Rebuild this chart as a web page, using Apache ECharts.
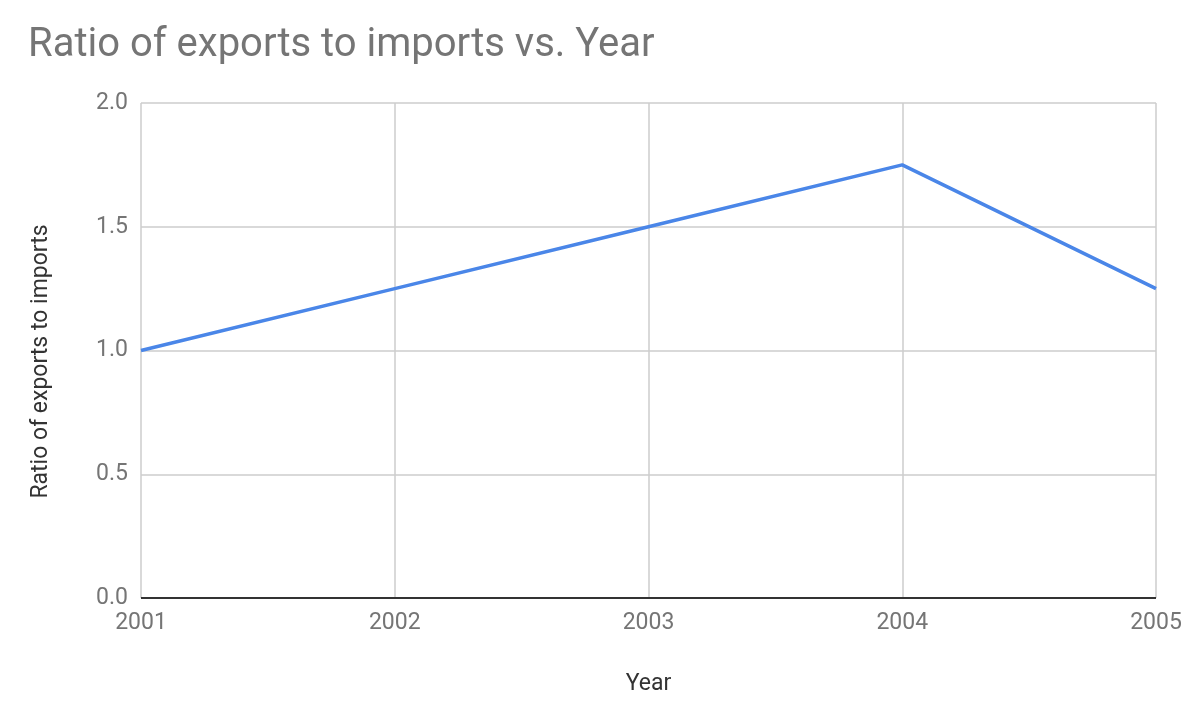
<!DOCTYPE html>
<html><head><meta charset="utf-8">
<script src="https://cdn.jsdelivr.net/npm/echarts@6/dist/echarts.min.js"></script>
<style>html,body{margin:0;padding:0;background:#fff}#c{width:1190px;height:718px}</style>
</head><body><div id="c"></div>
<script>
const years = [2001, 2002, 2003, 2004, 2005];
const ratio = [1.0, 1.25, 1.5, 1.75, 1.25];
const yTicks = [0, 0.5, 1.0, 1.5, 2.0];

const chart = echarts.init(document.getElementById('c'));
chart.setOption({
  animation: false,
  backgroundColor: '#fff',
  title: {
    text: 'Ratio of exports to imports vs. Year',
    left: 23, top: 21,
    textStyle: { fontFamily: 'Roboto', fontSize: 40, fontWeight: 'normal', color: '#757575' }
  },
  grid: { left: 141, right: 34, top: 103, bottom: 120 },
  xAxis: {
    type: 'value', min: years[0], max: years[years.length - 1], interval: 1,
    name: 'Year', nameLocation: 'middle', nameGap: 75,
    nameTextStyle: { fontFamily: 'Roboto', fontSize: 23, color: '#333' },
    axisLine: { show: false },
    axisTick: { show: false },
    splitLine: { show: true, lineStyle: { color: '#cccccc', width: 1.5 } },
    axisLabel: { fontFamily: 'Roboto', fontSize: 23, color: '#757575', margin: 14, formatter: v => String(v) }
  },
  yAxis: {
    type: 'value', min: yTicks[0], max: yTicks[yTicks.length - 1], interval: 0.5,
    name: 'Ratio of exports to imports', nameLocation: 'middle', nameGap: 88, nameRotate: 90,
    nameTextStyle: { fontFamily: 'Roboto', fontSize: 23, color: '#333', padding: [0, 22, 0, 0] },
    axisLine: { show: false },
    axisTick: { show: false },
    splitLine: { show: true, lineStyle: { color: '#cccccc', width: 1.5 } },
    axisLabel: { fontFamily: 'Roboto', fontSize: 23, color: '#757575', margin: 13, formatter: v => v.toFixed(1) }
  },
  series: [{
    type: 'line',
    data: years.map((y, i) => [y, ratio[i]]),
    symbol: 'none',
    lineStyle: { color: '#4a86e8', width: 3.5 },
    markLine: {
      silent: true, symbol: 'none', label: { show: false },
      lineStyle: { color: '#333', width: 2, type: 'solid' },
      data: [{ yAxis: 0 }]
    }
  }]
});
</script></body></html>
